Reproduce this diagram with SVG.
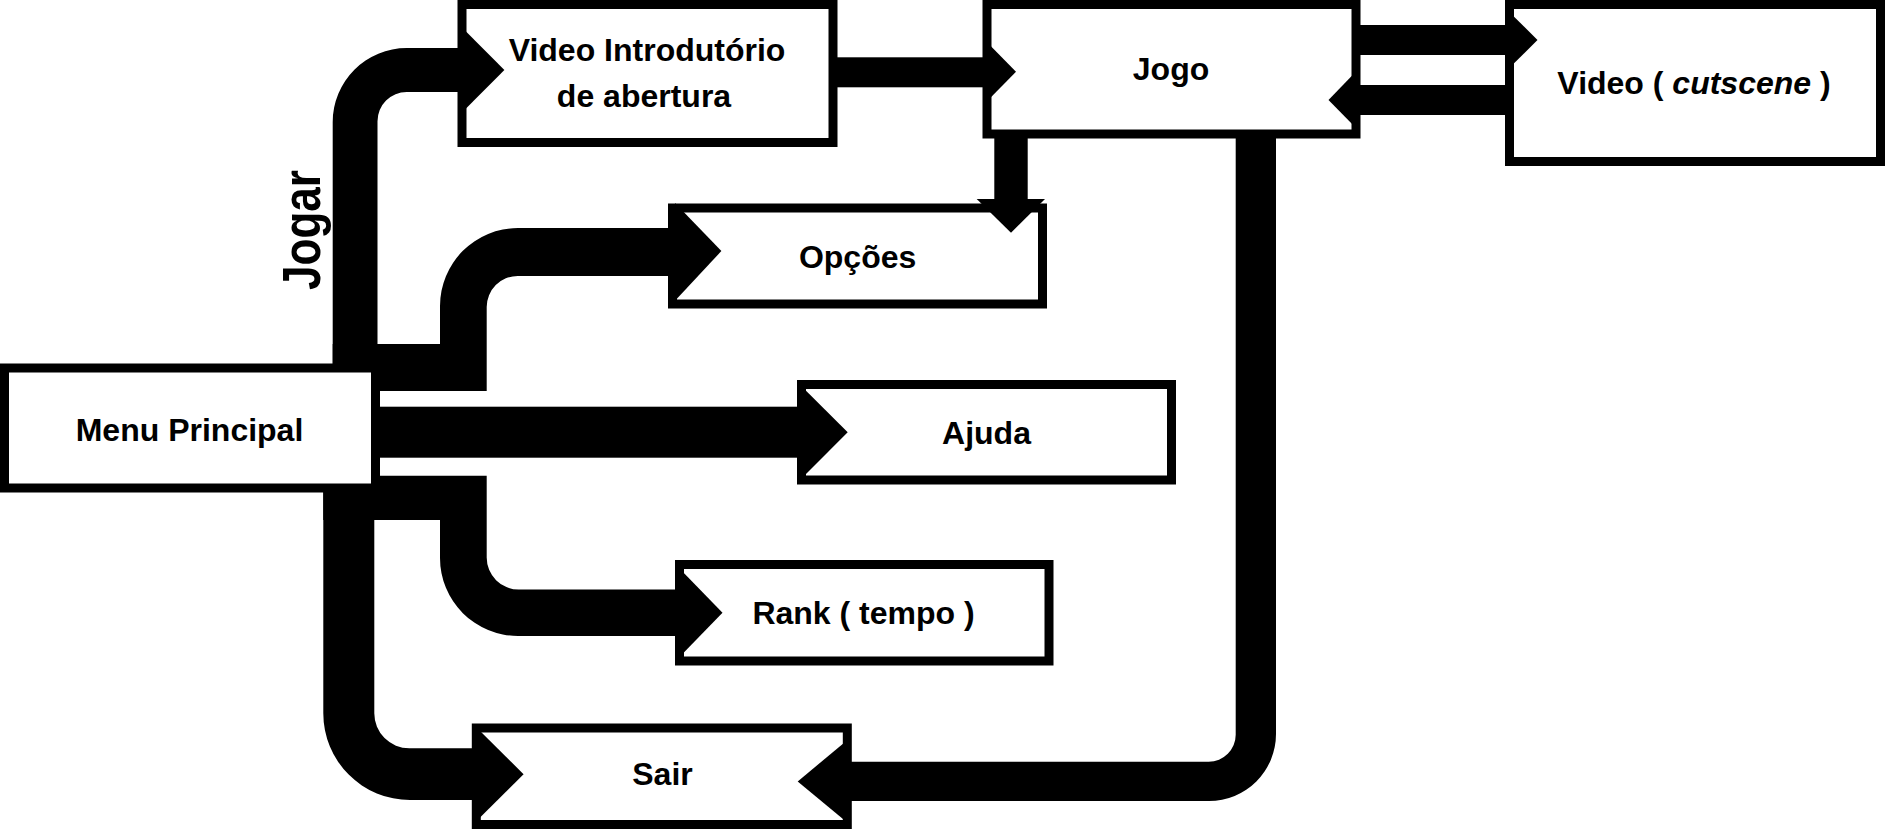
<svg xmlns="http://www.w3.org/2000/svg" width="1885" height="829" viewBox="0 0 1885 829">
  <style>
    .box { fill: #ffffff; stroke: #000000; stroke-width: 9; }
    .lbl { font-family: "Liberation Sans", Arial, sans-serif; font-weight: bold; font-size: 32px; fill: #000000; text-anchor: middle; }
    .conn { fill: #000000; stroke: none; }
  </style>
  <rect x="0" y="0" width="1885" height="829" fill="#ffffff"/>

  <g id="menu-principal">
    <rect class="box" x="4.5" y="368" width="371" height="120"/>
    <text class="lbl" x="189.5" y="441">Menu Principal</text>
  </g>
  <g id="video-introdutorio">
    <rect class="box" x="462" y="4.5" width="371" height="138"/>
    <text class="lbl" x="647" y="61">Video Introdutório</text>
    <text class="lbl" x="644" y="107">de abertura</text>
  </g>
  <g id="jogo">
    <rect class="box" x="987" y="4.5" width="369" height="129.5"/>
    <text class="lbl" x="1171" y="80">Jogo</text>
  </g>
  <g id="video-cutscene">
    <rect class="box" x="1509.5" y="4.5" width="371" height="157"/>
    <text class="lbl" x="1694" y="94">Video ( <tspan font-style="italic">cutscene</tspan> )</text>
  </g>
  <g id="opcoes">
    <rect class="box" x="672.5" y="208" width="370" height="96"/>
    <text class="lbl" x="857.6" y="267.5">Opções</text>
  </g>
  <g id="ajuda">
    <rect class="box" x="801.5" y="384.5" width="370" height="95.5"/>
    <text class="lbl" x="986.5" y="444">Ajuda</text>
  </g>
  <g id="rank">
    <rect class="box" x="679.5" y="564.5" width="369.5" height="96.5"/>
    <text class="lbl" x="863.5" y="623.5">Rank ( tempo )</text>
  </g>
  <g id="sair">
    <rect class="box" x="476.3" y="728" width="371" height="96.5"/>
    <text class="lbl" x="662.5" y="785">Sair</text>
  </g>

  <g id="connectors">
    <!-- Menu -> Video Introdutorio (Jogar) -->
    <path class="conn" d="M332.7,366 L332.7,122 A74,74 0 0 1 406.7,48 L462,48 L462,92 L406.7,92 A29.2,29.2 0 0 0 377.5,121.2 L377.5,366 Z"/>
    <polygon class="conn" points="462,27.5 504.4,70 462,112.5"/>
    <text class="lbl" font-size="54" transform="translate(319.5,230) rotate(-90)" textLength="120" lengthAdjust="spacingAndGlyphs" style="font-size:54px">Jogar</text>

    <!-- Menu -> Opcoes -->
    <path class="conn" d="M332.7,366 L332.7,344 L440,344 L440,306 A78,78 0 0 1 518,228 L672.5,228 L672.5,276 L517.7,276 A31,31 0 0 0 486.7,307 L486.7,391 L375,391 L375,366 Z"/>
    <polygon class="conn" points="675,203 721.4,251 672,304"/>

    <!-- Menu -> Ajuda -->
    <rect class="conn" x="375" y="406.7" width="426.5" height="51"/>
    <polygon class="conn" points="801,385.7 847.7,432.3 801,479"/>

    <!-- Menu -> Rank -->
    <path class="conn" d="M375,475.7 L486.7,475.7 L486.7,557.5 A32,32 0 0 0 518.7,589.5 L679.5,589.5 L679.5,636 L518,636 A78,78 0 0 1 440,558 L440,520 L323.3,520 L323.3,488 L375,488 Z"/>
    <polygon class="conn" points="679,568 722.5,612.8 679,657.6"/>

    <!-- Menu -> Sair -->
    <path class="conn" d="M323.3,488 L374.3,488 L374.3,713.3 A35,35 0 0 0 409.3,748.3 L476.3,748.3 L476.3,800 L410,800 A86.7,86.7 0 0 1 323.3,713.3 Z"/>
    <polygon class="conn" points="476,727 523.6,774.2 476,821.4"/>

    <!-- Video Introdutorio -> Jogo -->
    <rect class="conn" x="833" y="57.3" width="154" height="30"/>
    <polygon class="conn" points="987,42.2 1016,71.7 987,101.2"/>

    <!-- Jogo -> Opcoes -->
    <rect class="conn" x="994.3" y="134" width="33.4" height="66"/>
    <polygon class="conn" points="976.7,199 1045,199 1011,232.7"/>

    <!-- Jogo -> Video (cutscene) -->
    <rect class="conn" x="1356" y="25" width="153.5" height="30"/>
    <polygon class="conn" points="1509.5,12.2 1537.5,40 1509.5,67.8"/>

    <!-- Video (cutscene) -> Jogo -->
    <rect class="conn" x="1356" y="85" width="153.5" height="30"/>
    <polygon class="conn" points="1356,71.5 1328.5,100 1356,128"/>

    <!-- Jogo -> Sair -->
    <path class="conn" d="M1235.7,134 L1276,134 L1276,734 A67,67 0 0 1 1209,801 L847.3,801 L847.3,761.7 L1208.7,761.7 A27,27 0 0 0 1235.7,734.7 Z"/>
    <polygon class="conn" points="847.5,740 797.7,781.4 847.5,822.7"/>
  </g>
</svg>
